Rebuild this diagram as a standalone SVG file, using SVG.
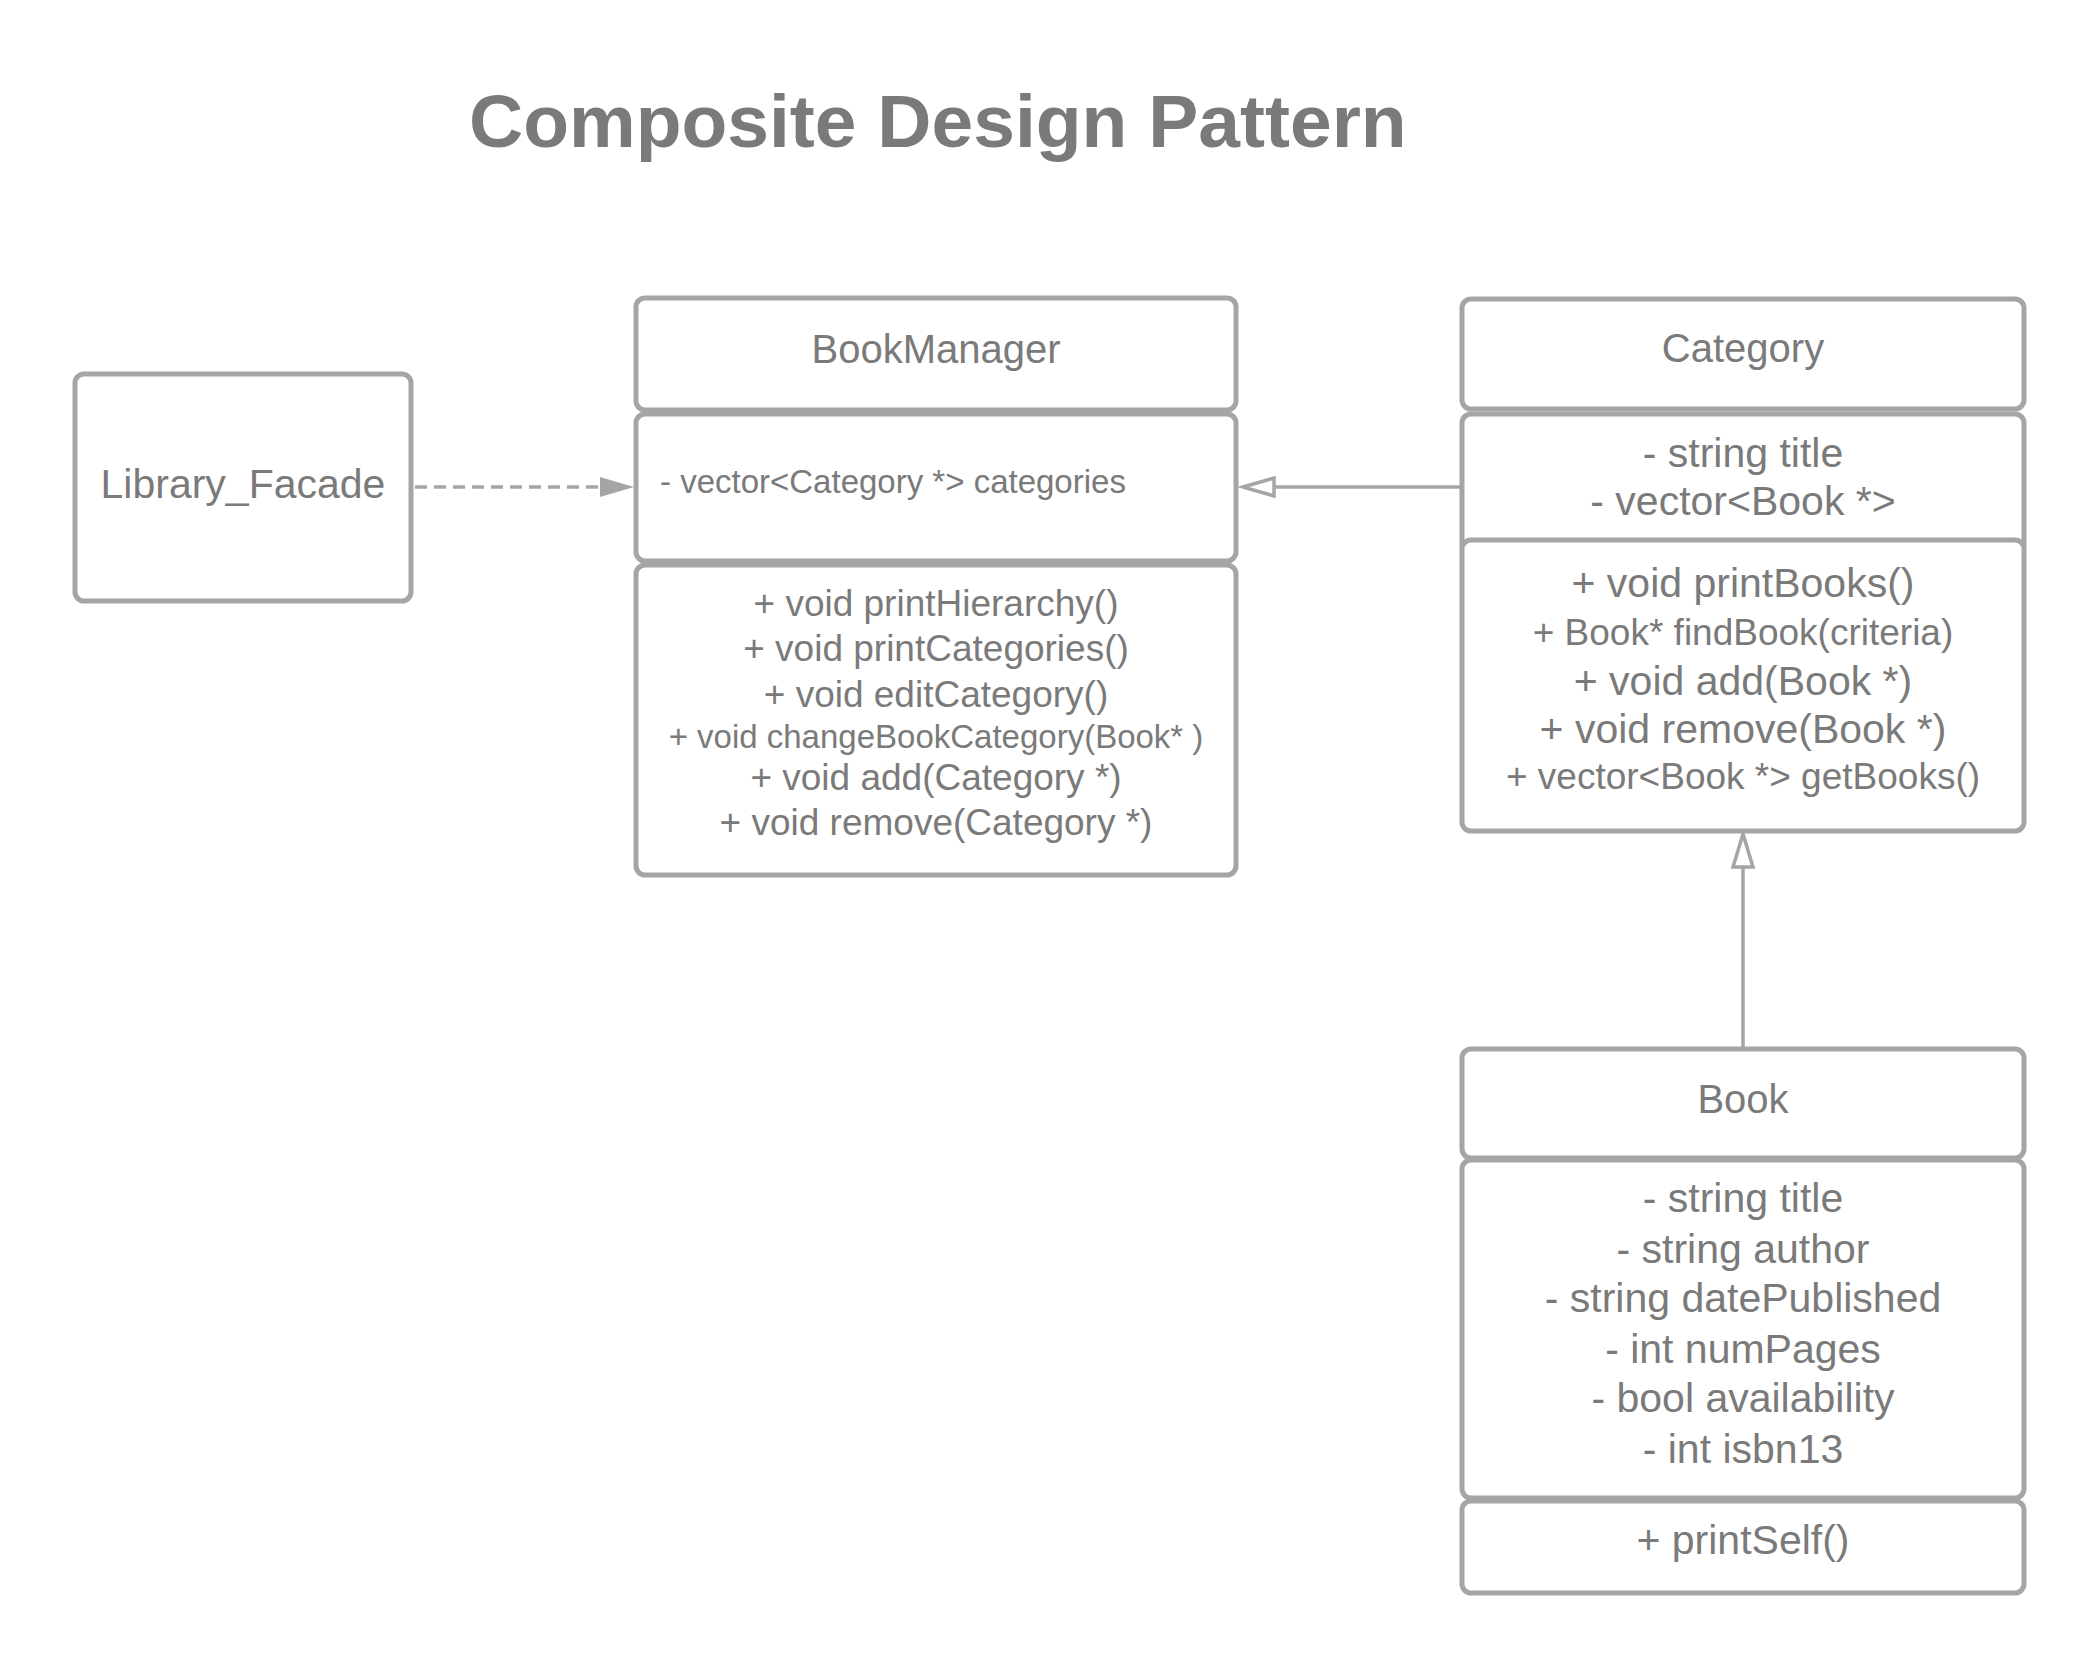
<svg xmlns="http://www.w3.org/2000/svg" width="2100" height="1669" viewBox="0 0 2100 1669">
<style>
.box{fill:#ffffff;stroke:#a5a5a5;stroke-width:5}
.t{font-family:"Liberation Sans",Arial,sans-serif;fill:#7a7a7a}
.c{text-anchor:middle}
.con{stroke:#a5a5a5;stroke-width:3.5;fill:none}
</style>
<rect width="2100" height="1669" fill="#ffffff"/>
<text class="t" x="469" y="147" font-size="75" font-weight="bold" fill="#7f7f7f">Composite Design Pattern</text>

<g id="connectors">
  <line class="con" x1="415" y1="487" x2="602" y2="487" stroke-dasharray="12 7"/>
  <polygon points="634,487 600,477 600,497" fill="#a5a5a5"/>
  <line class="con" x1="1274" y1="487" x2="1462" y2="487"/>
  <polygon points="1243,487 1274,478 1274,496" fill="#ffffff" stroke="#a5a5a5" stroke-width="3.5"/>
  <line class="con" x1="1743" y1="1049" x2="1743" y2="867"/>
  <polygon points="1743,834 1733,867 1753,867" fill="#ffffff" stroke="#a5a5a5" stroke-width="3.5"/>
</g>

<g id="library_facade">
  <rect class="box" x="75" y="374" width="336" height="227" rx="9"/>
  <text class="t c" x="243" y="498" font-size="41">Library_Facade</text>
</g>

<g id="bookmanager">
  <rect class="box" x="636" y="298" width="600" height="112" rx="9"/>
  <text class="t c" x="936" y="363" font-size="40">BookManager</text>
  <rect class="box" x="636" y="414" width="600" height="147" rx="9"/>
  <text class="t" x="660" y="493" font-size="33">- vector&lt;Category *&gt; categories</text>
  <rect class="box" x="636" y="565" width="600" height="310" rx="9"/>
  <text class="t c" x="936" y="616" font-size="37">+ void printHierarchy()</text>
  <text class="t c" x="936" y="661" font-size="37">+ void printCategories()</text>
  <text class="t c" x="936" y="707" font-size="37">+ void editCategory()</text>
  <text class="t c" x="936" y="748" font-size="33">+ void changeBookCategory(Book* )</text>
  <text class="t c" x="936" y="790" font-size="37">+ void add(Category *)</text>
  <text class="t c" x="936" y="835" font-size="37">+ void remove(Category *)</text>
</g>

<g id="category">
  <rect class="box" x="1462" y="299" width="562" height="110" rx="9"/>
  <text class="t c" x="1743" y="362" font-size="40">Category</text>
  <rect class="box" x="1462" y="414" width="562" height="140" rx="9"/>
  <text class="t c" x="1743" y="467" font-size="41">- string title</text>
  <text class="t c" x="1743" y="515" font-size="41">- vector&lt;Book *&gt;</text>
  <rect class="box" x="1462" y="540" width="562" height="291" rx="9"/>
  <text class="t c" x="1743" y="597" font-size="41">+ void printBooks()</text>
  <text class="t c" x="1743" y="645" font-size="37">+ Book* findBook(criteria)</text>
  <text class="t c" x="1743" y="695" font-size="41">+ void add(Book *)</text>
  <text class="t c" x="1743" y="743" font-size="41">+ void remove(Book *)</text>
  <text class="t c" x="1743" y="789" font-size="37">+ vector&lt;Book *&gt; getBooks()</text>
</g>

<g id="book">
  <rect class="box" x="1462" y="1049" width="562" height="109" rx="9"/>
  <text class="t c" x="1743" y="1113" font-size="40">Book</text>
  <rect class="box" x="1462" y="1160" width="562" height="338" rx="9"/>
  <text class="t c" x="1743" y="1212" font-size="41">- string title</text>
  <text class="t c" x="1743" y="1263" font-size="41">- string author</text>
  <text class="t c" x="1743" y="1312" font-size="41">- string datePublished</text>
  <text class="t c" x="1743" y="1363" font-size="41">- int numPages</text>
  <text class="t c" x="1743" y="1412" font-size="41">- bool availability</text>
  <text class="t c" x="1743" y="1463" font-size="41">- int isbn13</text>
  <rect class="box" x="1462" y="1501" width="562" height="92" rx="9"/>
  <text class="t c" x="1743" y="1554" font-size="41">+ printSelf()</text>
</g>
</svg>
